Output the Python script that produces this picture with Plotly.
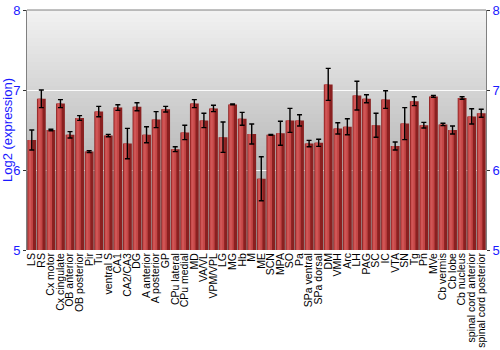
import plotly.graph_objects as go

regions = ["LS", "RS", "Cx motor", "Cx cingulate", "OB anterior", "OB posterior", "Pir", "Tu",
           "ventral S", "CA1", "CA2/CA3", "DG", "A anterior", "A posterior", "GP", "CPu lateral",
           "CPu medial", "MD", "VA/VL", "VPM/VPL", "LG", "MG", "Hb", "M", "ME", "SCN", "MPA", "SO",
           "Pa", "SPa ventral", "SPa dorsal", "DM", "VMH", "Arc", "LH", "PAG", "SC", "IC", "VTA",
           "SN", "Tg", "Pn", "MVe", "Cb vermis", "Cb lobe", "Cb nucleus", "spinal cord anterior",
           "spinal cord posterior"]

expression = [6.375, 6.89, 6.50, 6.83, 6.44, 6.65, 6.23, 6.73,
              6.43, 6.78, 6.33, 6.79, 6.44, 6.63, 6.76, 6.26,
              6.47, 6.83, 6.62, 6.77, 6.41, 6.82, 6.64, 6.45, 5.89, 6.44, 6.46, 6.62,
              6.62, 6.33, 6.34, 7.07, 6.52, 6.54, 6.93, 6.89, 6.56, 6.88, 6.30,
              6.58, 6.86, 6.56, 6.92, 6.57, 6.50, 6.90, 6.67,
              6.71]

error = [0.125, 0.11, 0.01, 0.05, 0.04, 0.03, 0.012, 0.065,
         0.015, 0.035, 0.19, 0.05, 0.10, 0.10, 0.035, 0.03,
         0.09, 0.05, 0.09, 0.04, 0.19, 0.005, 0.08, 0.125, 0.275, 0.005, 0.15, 0.15,
         0.07, 0.04, 0.045, 0.20, 0.07, 0.10, 0.18, 0.05, 0.15, 0.11, 0.05,
         0.20, 0.055, 0.035, 0.012, 0.015, 0.05, 0.015, 0.095,
         0.05]

y_ticks = [5, 6, 7, 8]
y_range = [5, 8]

blue = "#1a1aff"

fig = go.Figure()

# base bar (dark edge)
fig.add_trace(go.Bar(
    x=regions, y=expression,
    marker=dict(color="#8a2020", line=dict(width=0)),
    width=0.92, showlegend=False,
))
# highlight bands to mimic cylindrical gradient
fig.add_trace(go.Bar(
    x=regions, y=expression,
    marker=dict(color="#c44646", line=dict(width=0)),
    width=0.5, offset=-0.38,
    showlegend=False, hoverinfo="skip",
))
fig.add_trace(go.Bar(
    x=regions, y=expression,
    marker=dict(color="#d05656", line=dict(width=0)),
    width=0.22, offset=-0.3,
    showlegend=False, hoverinfo="skip",
))
# error bars on top
fig.add_trace(go.Bar(
    x=regions, y=expression,
    marker=dict(color="rgba(0,0,0,0)", line=dict(width=0)),
    width=0.92,
    error_y=dict(type="data", array=error, color="black", thickness=1.4, width=2.5),
    showlegend=False, hoverinfo="skip",
))

# vertical grey gradient background
shapes = []
n = 60
top = (242, 242, 242)
bot = (152, 152, 152)
for i in range(n):
    t = i / (n - 1)
    c = tuple(int(round(top[k] + (bot[k] - top[k]) * t)) for k in range(3))
    shapes.append(dict(type="rect", xref="paper", yref="paper",
                       x0=0, x1=1, y0=1 - (i + 1) / n, y1=1 - i / n,
                       fillcolor="rgb(%d,%d,%d)" % c, line=dict(width=0), layer="below"))
shapes.append(dict(type="line", xref="paper", yref="paper", x0=0, x1=1, y0=1, y1=1,
                   line=dict(color="#808080", width=1)))

fig.update_layout(
    width=500, height=350,
    margin=dict(l=27, r=14, t=10, b=100, autoexpand=False),
    paper_bgcolor="white",
    plot_bgcolor="rgba(0,0,0,0)",
    barmode="overlay",
    shapes=shapes,
    font=dict(family="Liberation Sans, Arial, sans-serif", size=10, color="black"),
    xaxis=dict(
        tickangle=-90, tickfont=dict(size=10.5, color="black"),
        tickmode="array", tickvals=regions, ticktext=regions, automargin=False,
        showgrid=False, ticks="", showline=False, range=[-0.5, len(regions) - 0.5],
    ),
    yaxis=dict(
        range=y_range, tickvals=y_ticks, tickfont=dict(size=13, color=blue),
        title=dict(text="Log2 (expression)", font=dict(size=13, color=blue), standoff=4),
        showgrid=True, gridcolor="rgba(255,255,255,0.9)", gridwidth=1,
        ticks="outside", ticklen=3, tickcolor="#333", showline=True, linecolor="#808080",
        zeroline=False, automargin=False,
    ),
    yaxis2=dict(
        range=y_range, tickvals=y_ticks, tickfont=dict(size=13, color=blue),
        overlaying="y", side="right", showgrid=False,
        ticks="outside", ticklen=3, tickcolor="#333", showline=True, linecolor="#808080",
        zeroline=False, automargin=False,
    ),
)

fig.add_trace(go.Scatter(x=[regions[0]], y=[expression[0]], yaxis="y2", mode="markers",
                         marker=dict(opacity=0), showlegend=False, hoverinfo="skip"))

fig.write_html("out.html")
